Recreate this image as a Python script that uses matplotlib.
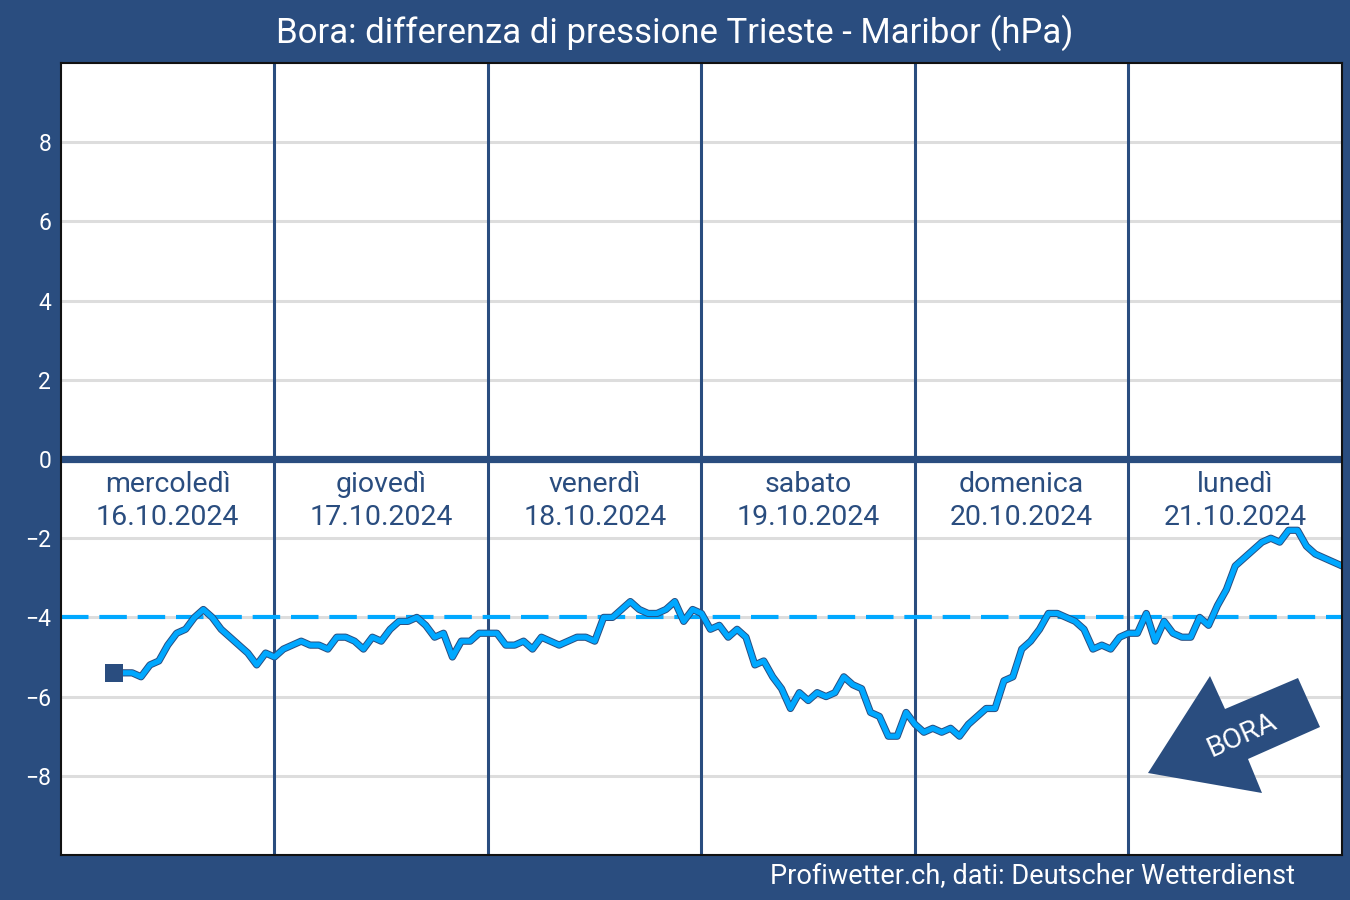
import matplotlib
matplotlib.use('Agg')
from matplotlib import pyplot as plt
from matplotlib import patheffects as pe
from matplotlib.patches import Polygon

plt.rcParams['font.family'] = ['Roboto', 'DejaVu Sans']

NAVY = '#2a4d7f'
BLUE = '#00a8ff'
GRID = '#dddddd'

# ore dall'inizio di mercoledi, un valore ogni ora dalle 06:00
START_HOUR = 6
pressure_diff = [
    -5.4, -5.4, -5.4, -5.5, -5.2, -5.1, -4.7, -4.4, -4.3, -4.0, -3.8, -4.0, -4.3, -4.5, -4.7, -4.9, -5.2, -4.9,
    -5.0, -4.8, -4.7, -4.6, -4.7, -4.7, -4.8, -4.5, -4.5, -4.6, -4.8, -4.5, -4.6, -4.3, -4.1, -4.1, -4.0, -4.2,
    -4.5, -4.4, -5.0, -4.6, -4.6, -4.4, -4.4, -4.4, -4.7, -4.7, -4.6, -4.8, -4.5, -4.6, -4.7, -4.6, -4.5, -4.5,
    -4.6, -4.0, -4.0, -3.8, -3.6, -3.8, -3.9, -3.9, -3.8, -3.6, -4.1, -3.8, -3.9, -4.3, -4.2, -4.5, -4.3, -4.5,
    -5.2, -5.1, -5.5, -5.8, -6.3, -5.9, -6.1, -5.9, -6.0, -5.9, -5.5, -5.7, -5.8, -6.4, -6.5, -7.0, -7.0, -6.4,
    -6.7, -6.9, -6.8, -6.9, -6.8, -7.0, -6.7, -6.5, -6.3, -6.3, -5.6, -5.5, -4.8, -4.6, -4.3, -3.9, -3.9, -4.0,
    -4.1, -4.3, -4.8, -4.7, -4.8, -4.5, -4.4, -4.4, -3.9, -4.6, -4.1, -4.4, -4.5, -4.5, -4.0, -4.2, -3.7, -3.3,
    -2.7, -2.5, -2.3, -2.1, -2.0, -2.1, -1.8, -1.8, -2.2, -2.4, -2.5, -2.6, -2.7,
]
day_names = ['mercoledì', 'giovedì', 'venerdì', 'sabato', 'domenica', 'lunedì']
day_dates = ['16.10.2024', '17.10.2024', '18.10.2024', '19.10.2024', '20.10.2024', '21.10.2024']
y_ticks = [-8, -6, -4, -2, 0, 2, 4, 6, 8]
y_labels = ['−8', '−6', '−4', '−2', '0', '2', '4', '6', '8']
BORA_LIMIT = -4

hours = [START_HOUR + i for i in range(len(pressure_diff))]

fig = plt.figure(figsize=(13.5, 9), dpi=100, facecolor=NAVY)
ax = fig.add_axes([61 / 1350, 1 - 855 / 900, 1281 / 1350, 792 / 900])
ax.set_xlim(0, 144)
ax.set_ylim(-10, 10)

for y in y_ticks:
    ax.axhline(y, color=GRID, lw=2.2, zorder=1)
for d in range(1, 6):
    ax.axvline(d * 24, color=NAVY, lw=2.2, zorder=2)
ax.axhline(0, color=NAVY, lw=5.2, zorder=3)

# soglia bora
ax.axhline(BORA_LIMIT, color=BLUE, lw=3, linestyle=(0, (6.6, 2.6)), zorder=3)

ax.plot(hours, pressure_diff, color=BLUE, lw=3.8, zorder=4, solid_joinstyle='round',
        path_effects=[pe.Stroke(linewidth=5.2, foreground=NAVY), pe.Normal()])
ax.plot(hours[0], pressure_diff[0], marker='s', ms=13, color=NAVY, mew=0, zorder=5)

for i in range(6):
    ax.text(i * 24 + 12, -0.65, day_names[i], color=NAVY, fontsize=20.5, ha='center', va='center', zorder=6)
    ax.text(i * 24 + 12, -1.47, day_dates[i], color=NAVY, fontsize=20.5, ha='center', va='center', zorder=6)

# freccia BORA, in coordinate pixel della figura
arrow_px = [(1148, 773), (1210, 676), (1225, 709), (1298, 678), (1320, 727), (1248, 759), (1262, 793)]
arrow_fig = [(x / 1350, 1 - y / 900) for x, y in arrow_px]
ax.add_patch(Polygon(arrow_fig, closed=True, transform=fig.transFigure, facecolor=NAVY, edgecolor='none', zorder=6))
fig.text(1242 / 1350, 1 - 735 / 900, 'BORA', color='white', fontsize=20.5, rotation=24,
         ha='center', va='center', rotation_mode='anchor', zorder=7)

ax.set_yticks(y_ticks)
ax.set_yticklabels(y_labels)
ax.set_xticks([])
ax.tick_params(axis='y', length=0, pad=7, labelsize=16.5, labelcolor='white')
for spine in ax.spines.values():
    spine.set_color('#111111')
    spine.set_linewidth(1.5)
    spine.set_zorder(8)

fig.text(675 / 1350, 1 - 33 / 900, 'Bora: differenza di pressione Trieste - Maribor (hPa)',
         color='white', fontsize=25, ha='center', va='center')
fig.text(1295 / 1350, 1 - 877 / 900, 'Profiwetter.ch, dati: Deutscher Wetterdienst',
         color='white', fontsize=19.5, ha='right', va='center')

fig.savefig('out.png', dpi=100, facecolor=NAVY)
